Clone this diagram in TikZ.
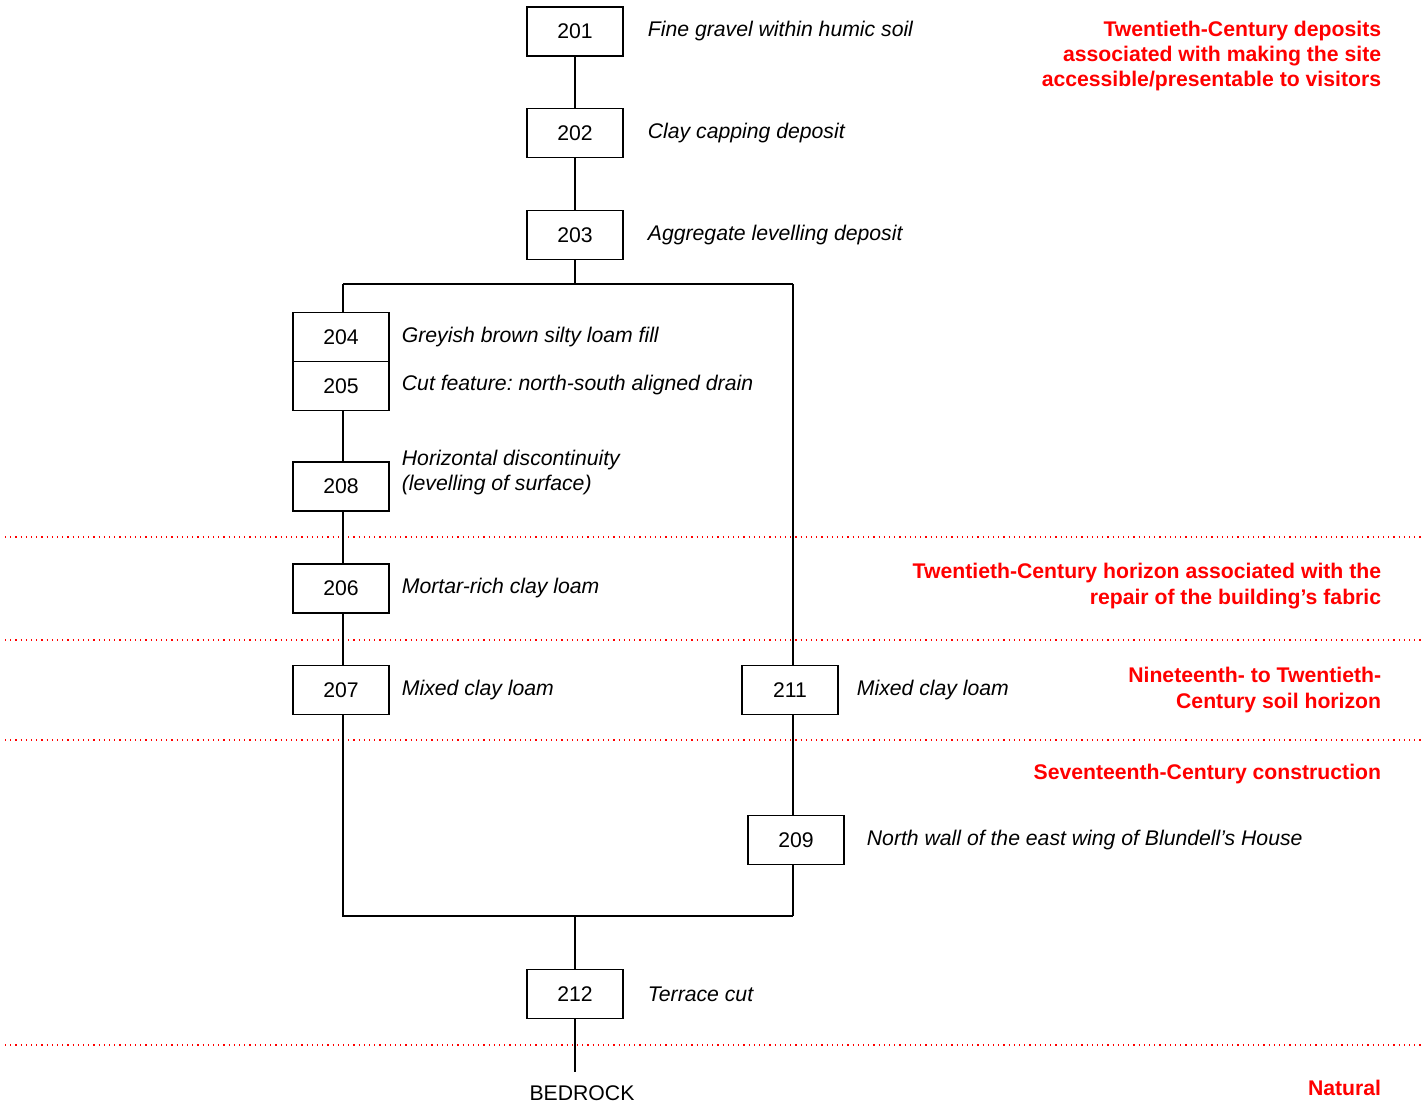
\documentclass[tikz,border=0pt]{standalone}
\usepackage{fontspec}
\setmainfont{Liberation Sans}
\usetikzlibrary{positioning}
\frenchspacing

\begin{document}
\begin{tikzpicture}[x=0.5pt, y=-0.5pt, line width=0.9pt,
    ctx/.style={draw, minimum width=48pt, minimum height=24.5pt, inner sep=0pt, font=\fontsize{10.6}{12}\selectfont},
    desc/.style={anchor=west, align=left, inner sep=0pt, font=\fontsize{10.6}{12.5}\selectfont\itshape},
    phase/.style={anchor=east, align=right, inner sep=0pt, text=red, font=\fontsize{10.6}{12.6}\selectfont\bfseries},
    horizon/.style={red, dotted, line width=0.6pt}]

    \useasboundingbox (0,0) rectangle (1428,1106);

    %phase boundaries
    \foreach \y in {537, 640, 740, 1045}
        \draw[horizon] (5,\y) -- (1422,\y);

    %define the contexts
    \node[ctx] (b201) at (575,31.5) {201};
    \node[ctx] (b202) at (575,133) {202};
    \node[ctx] (b203) at (575,235) {203};
    \node[ctx] (b204) at (341,337) {204};
    \node[ctx] (b205) [below=-0.9pt of b204] {205};
    \node[ctx] (b208) at (341,486.5) {208};
    \node[ctx] (b206) at (341,588.5) {206};
    \node[ctx] (b207) at (341,690) {207};
    \node[ctx] (b211) at (790,690) {211};
    \node[ctx] (b209) at (796,840) {209};
    \node[ctx] (b212) at (575,994) {212};
    \node[inner sep=0pt, font=\fontsize{10.6}{12}\selectfont] (rock) at (582,1093) {BEDROCK};

    %junctions
    \coordinate (split) at (575,284);
    \coordinate (splitL) at (343,284);
    \coordinate (splitR) at (793,284);
    \coordinate (joinL) at (343,916);
    \coordinate (joinR) at (793,916);
    \coordinate (join) at (575,916);
    \coordinate (rocktop) at (575,1072);

    %define the links
    \draw (b201) -- (b202);
    \draw (b202) -- (b203);
    \draw (b203) -- (split);
    \draw (splitL) -- (splitR);
    \draw (splitL) -- (splitL |- b204.north);
    \draw (b205.south -| splitL) -- (b208.north -| splitL);
    \draw (b208.south -| splitL) -- (b206.north -| splitL);
    \draw (b206.south -| splitL) -- (b207.north -| splitL);
    \draw (b207.south -| splitL) -- (joinL) -- (joinR);
    \draw (splitR) -- (b211.north -| splitR);
    \draw (b211.south -| splitR) -- (b209.north -| splitR);
    \draw (b209.south -| splitR) -- (joinR);
    \draw (join) -- (b212);
    \draw (b212) -- (rocktop);

    %descriptions
    \node[desc] (d201) at (647,31) {Fine gravel within humic soil};
    \node[desc] (d202) at (647,133) {Clay capping deposit};
    \node[desc] (d203) at (647,235) {Aggregate levelling deposit};
    \node[desc] (d204) at (401,337) {Greyish brown silty loam fill};
    \node[desc] (d205) at (401,385) {Cut feature: north-south aligned drain};
    \node[desc] (d208) at (401,473) {Horizontal discontinuity\\(levelling of surface)};
    \node[desc] (d206) at (401,588) {Mortar-rich clay loam};
    \node[desc] (d207) at (401,690) {Mixed clay loam};
    \node[desc] (d211) at (856,690) {Mixed clay loam};
    \node[desc] (d209) at (866,840) {North wall of the east wing of Blundell’s House};
    \node[desc] (d212) at (647,994) {Terrace cut};

    %phases
    \node[phase] (p1) at (1382,56) {Twentieth-Century deposits\\associated with making the site\\accessible/presentable to visitors};
    \node[phase] (p2) at (1382,586) {Twentieth-Century horizon associated with the\\repair of the building’s fabric};
    \node[phase] (p3) at (1382,690) {Nineteenth- to Twentieth-\\Century soil horizon};
    \node[phase] (p4) at (1382,774) {Seventeenth-Century construction};
    \node[phase] (p5) at (1382,1088) {Natural};

\end{tikzpicture}
\end{document}
